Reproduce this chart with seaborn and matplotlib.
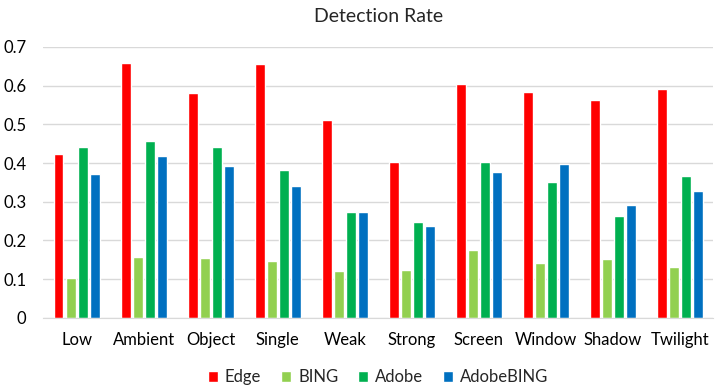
import pandas as pd
import matplotlib
matplotlib.use("Agg")
import matplotlib.pyplot as plt
import seaborn as sns

categories = ["Low", "Ambient", "Object", "Single", "Weak", "Strong",
              "Screen", "Window", "Shadow", "Twilight"]
series = ["Edge", "BING", "Adobe", "AdobeBING"]

edge = [0.424, 0.659, 0.582, 0.657, 0.512, 0.403, 0.605, 0.584, 0.564, 0.590]
bing = [0.103, 0.158, 0.155, 0.147, 0.122, 0.124, 0.176, 0.142, 0.153, 0.132]
adobe = [0.442, 0.458, 0.442, 0.383, 0.274, 0.248, 0.403, 0.352, 0.264, 0.367]
adobe_bing = [0.372, 0.419, 0.393, 0.341, 0.274, 0.238, 0.378, 0.398, 0.292, 0.328]

colors = ["#FF0000", "#92D050", "#00B050", "#0070C0"]

rows = []
for name, vals in zip(series, [edge, bing, adobe, adobe_bing]):
    for cat, v in zip(categories, vals):
        rows.append({"Category": cat, "Series": name, "Value": v})
df = pd.DataFrame(rows)

sns.set_style("white")
plt.rcParams["font.family"] = ["Lato", "DejaVu Sans"]

fig = plt.figure(figsize=(7.19, 3.91), dpi=100)
ax = fig.add_axes([0.06, 0.187, 0.932, 0.693])

sns.barplot(data=df, x="Category", y="Value", hue="Series", order=categories,
            hue_order=series, palette=colors, width=0.72, gap=0.18,
            saturation=1, errorbar=None, ax=ax)

ax.set_ylim(0, 0.7)
ax.set_yticks([0, 0.1, 0.2, 0.3, 0.4, 0.5, 0.6, 0.7])
ax.set_yticklabels(["0", "0.1", "0.2", "0.3", "0.4", "0.5", "0.6", "0.7"])
ax.set_xlim(-0.5, len(categories) - 0.5)
ax.yaxis.grid(True, color="#d9d9d9", linewidth=1)
ax.set_axisbelow(True)
for s in ["top", "right", "left"]:
    ax.spines[s].set_visible(False)
ax.spines["bottom"].set_color("#d9d9d9")
ax.tick_params(axis="both", length=0, labelsize=12, colors="#000000")
ax.tick_params(axis="x", pad=10)
ax.tick_params(axis="y", pad=12)
ax.set_xlabel("")
ax.set_ylabel("")
ax.set_title("Detection Rate", fontsize=14, pad=18)

ax.legend(loc="upper center", bbox_to_anchor=(0.5, -0.135), ncol=4,
          frameon=False, fontsize=12, handlelength=0.6, handleheight=0.6,
          handletextpad=0.4, columnspacing=1.2)

fig.savefig("out.png", dpi=100)
